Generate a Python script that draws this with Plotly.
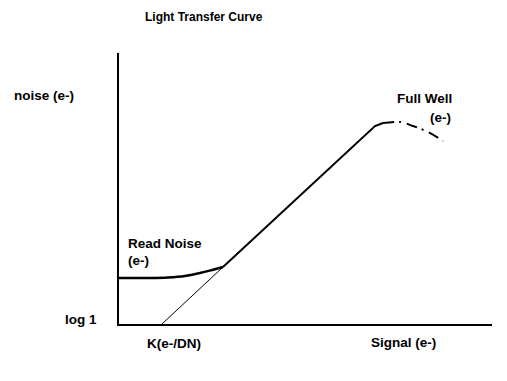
import plotly.graph_objects as go

# Schematic photon transfer curve (arbitrary units, axis origin at 0,0)
read_signal = [0, 30, 49, 66, 81, 93, 104]
read_noise = [46, 46, 46.5, 48, 51, 54, 57]

shot_signal = [104, 256, 264]
shot_noise = [57, 198, 201]

well_signal = [264, 281, 294, 309, 324]
well_noise = [201, 202, 198, 192, 183]

gain_signal = [43, 104]
gain_noise = [0, 57]

X_MAX = 373
Y_MAX = 271

fig = go.Figure()
fig.add_trace(go.Scatter(x=read_signal, y=read_noise, mode="lines",
                         line=dict(color="black", width=2.5, shape="spline"),
                         cliponaxis=False, hoverinfo="skip"))
fig.add_trace(go.Scatter(x=shot_signal, y=shot_noise, mode="lines",
                         line=dict(color="black", width=2), cliponaxis=False,
                         hoverinfo="skip"))
fig.add_trace(go.Scatter(x=well_signal, y=well_noise, mode="lines",
                         line=dict(color="black", width=2, dash="11px,5px,2px,6px",
                                   shape="spline"),
                         cliponaxis=False, hoverinfo="skip"))
fig.add_trace(go.Scatter(x=gain_signal, y=gain_noise, mode="lines",
                         line=dict(color="black", width=1), cliponaxis=False,
                         hoverinfo="skip"))

font = dict(family="Liberation Sans, Arial, sans-serif", size=13.5, color="black")

def label(text, x, y, xanchor="left", size=None):
    # positions given in axis units, converted to paper fractions
    f = dict(font)
    if size:
        f["size"] = size
    fig.add_annotation(text="<b>%s</b>" % text, x=x / X_MAX, y=y / Y_MAX,
                       xref="paper", yref="paper",
                       xanchor=xanchor, yanchor="middle", showarrow=False,
                       font=f)

label("Light Transfer Curve", 24, 307, size=12)
label("noise (e-)", -107, 228)
label("log 1", -56, 5)
label("Read Noise", 7, 81)
label("(e-)", 7, 64)
label("Full Well", 276, 226)
label("(e-)", 309, 206)
label("K(e-/DN)", 26, -19)
label("Signal (e-)", 250, -18)

fig.update_layout(
    width=499, height=373,
    margin=dict(l=111, r=15, t=45, b=57),
    paper_bgcolor="white", plot_bgcolor="white",
    showlegend=False,
    xaxis=dict(range=[0, X_MAX], showgrid=False, zeroline=False,
               showticklabels=False, ticks="", showline=True,
               linecolor="black", linewidth=2, fixedrange=True),
    yaxis=dict(range=[0, Y_MAX], showgrid=False, zeroline=False,
               showticklabels=False, ticks="", showline=True,
               linecolor="black", linewidth=2, fixedrange=True),
)

fig.write_html("out.html")
